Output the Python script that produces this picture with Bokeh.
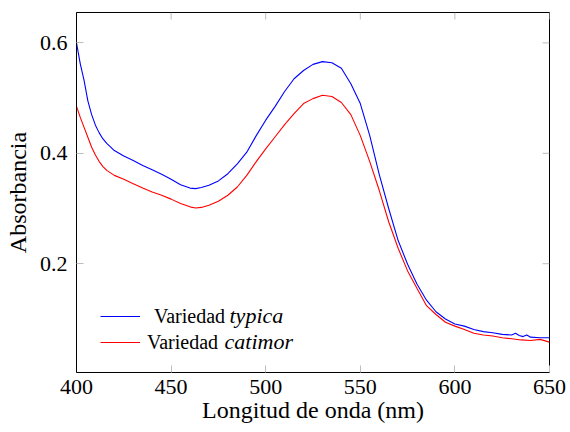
from bokeh.plotting import figure
from bokeh.models import FixedTicker, Range1d, Legend, LegendItem, Label
from bokeh.embed import file_html
from bokeh.resources import INLINE

# ---- data ----
wl_typica = [400, 402, 404, 406, 408, 410, 412, 414, 416, 420, 425, 430, 435, 440, 445, 450,
             455, 460, 463, 466, 470, 475, 480, 485, 490, 495, 500, 505, 510, 515, 520, 525,
             530, 535, 540, 545, 550, 555, 560, 565, 570, 575, 580, 585, 590, 595, 600, 605,
             610, 615, 620, 625, 630, 632, 634, 636, 638, 640, 645, 650]
abs_typica = [0.600, 0.562, 0.532, 0.495, 0.470, 0.451, 0.437, 0.426, 0.418, 0.405, 0.395, 0.387,
              0.378, 0.370, 0.362, 0.353, 0.343, 0.337, 0.336, 0.338, 0.342, 0.350, 0.363, 0.381,
              0.402, 0.432, 0.460, 0.485, 0.512, 0.535, 0.550, 0.561, 0.566, 0.564, 0.554, 0.526,
              0.490, 0.432, 0.362, 0.300, 0.242, 0.199, 0.163, 0.134, 0.113, 0.100, 0.091, 0.087,
              0.081, 0.077, 0.075, 0.072, 0.071, 0.074, 0.070, 0.068, 0.071, 0.067, 0.066, 0.066]

wl_catimor = [400, 402, 404, 406, 408, 410, 412, 414, 416, 420, 425, 430, 435, 440, 445, 450,
              455, 460, 463, 466, 470, 475, 480, 485, 490, 495, 500, 505, 510, 515, 520, 525,
              530, 535, 540, 545, 550, 555, 560, 565, 570, 575, 580, 585, 590, 595, 600, 605,
              610, 615, 620, 625, 630, 635, 640, 645, 650]
abs_catimor = [0.485, 0.465, 0.447, 0.429, 0.411, 0.397, 0.385, 0.376, 0.369, 0.360, 0.353, 0.345,
               0.337, 0.330, 0.324, 0.317, 0.309, 0.303, 0.301, 0.302, 0.306, 0.313, 0.324, 0.339,
               0.360, 0.385, 0.408, 0.430, 0.452, 0.472, 0.490, 0.499, 0.505, 0.503, 0.492, 0.470,
               0.432, 0.385, 0.333, 0.276, 0.228, 0.187, 0.155, 0.124, 0.108, 0.094, 0.087, 0.081,
               0.074, 0.071, 0.069, 0.066, 0.064, 0.062, 0.061, 0.063, 0.058]

x_ticks = [400, 450, 500, 550, 600, 650]
y_ticks = [0.2, 0.4, 0.6]
x_label = "Longitud de onda (nm)"
y_label = "Absorbancia"
series_prefix = "Variedad"
series_names = ["typica", "catimor"]
series_colors = ["#0000ff", "#ff0000"]

X0, X1 = 400, 650
Y0, Y1 = 0.003, 0.655

FONT = "Liberation Serif"
W, H = 570, 432
FRAME_W, FRAME_H = 473, 360

p = figure(width=W, height=H, output_backend="svg", toolbar_location=None,
           x_range=Range1d(X0, X1), y_range=Range1d(Y0, Y1),
           min_border_left=76, min_border_right=21, min_border_top=12, min_border_bottom=60)
p.grid.grid_line_color = None
p.outline_line_color = "black"
p.outline_line_width = 1
p.background_fill_color = "white"
p.border_fill_color = "white"

TICK_COLOR = "#bdbdbd"
for ax, ticks, standoff in [(p.xaxis[0], x_ticks, 7), (p.yaxis[0], y_ticks, 9)]:
    ax.ticker = FixedTicker(ticks=ticks)
    ax.major_tick_in = 7
    ax.major_tick_out = 0
    ax.minor_tick_in = 0
    ax.minor_tick_out = 0
    ax.major_tick_line_color = TICK_COLOR
    ax.major_tick_line_width = 1
    ax.axis_line_color = "black"
    ax.major_label_text_font = FONT
    ax.major_label_text_font_size = "22px"
    ax.major_label_text_font_style = "normal"
    ax.major_label_text_color = "black"
    ax.major_label_standoff = standoff
    ax.axis_label_text_font = FONT
    ax.axis_label_text_font_size = "24px"
    ax.axis_label_text_font_style = "normal"
    ax.axis_label_text_color = "black"

p.xaxis[0].axis_label = x_label
p.xaxis[0].axis_label_standoff = 0
p.yaxis[0].axis_label = y_label
p.yaxis[0].axis_label_standoff = 6

# mirrored inward ticks on top and right edges (pgfplots style)
tick_len_x = 7 * (X1 - X0) / FRAME_W
tick_len_y = 7 * (Y1 - Y0) / FRAME_H
p.segment(x0=x_ticks, x1=x_ticks, y0=[Y1] * len(x_ticks), y1=[Y1 - tick_len_y] * len(x_ticks),
          line_color=TICK_COLOR, line_width=1)
p.segment(x0=[X1] * len(y_ticks), x1=[X1 - tick_len_x] * len(y_ticks), y0=y_ticks, y1=y_ticks,
          line_color=TICK_COLOR, line_width=1)

renderers = []
for wl, ab, col in [(wl_typica, abs_typica, series_colors[0]),
                    (wl_catimor, abs_catimor, series_colors[1])]:
    renderers.append(p.line(wl, ab, line_color=col, line_width=1.1))

# legend: italic species names first, then one small legend per row
legend_rows = [(42, 14, 57, 153), (16, 7, 31, 148)]
for (loc_y, standoff, y_mid, x_it), name in zip(legend_rows, series_names):
    p.add_layout(Label(x=x_it, y=y_mid, x_units="screen", y_units="screen", text=name,
                       text_align="left", text_baseline="middle", text_font=FONT,
                       text_font_size="22px", text_font_style="italic", text_color="black"))
for (loc_y, standoff, y_mid, x_it), r in zip(legend_rows, renderers):
    lg = Legend(items=[LegendItem(label=series_prefix, renderers=[r])],
                location=(23, loc_y), glyph_width=40, glyph_height=26, label_height=26,
                spacing=0, padding=0, margin=0, label_standoff=standoff,
                border_line_color="white", border_line_width=1,
                background_fill_color="white", background_fill_alpha=0,
                label_text_font=FONT, label_text_font_size="20px", label_text_color="black")
    p.add_layout(lg, "center")

open("out.html", "w").write(file_html(p, INLINE))
